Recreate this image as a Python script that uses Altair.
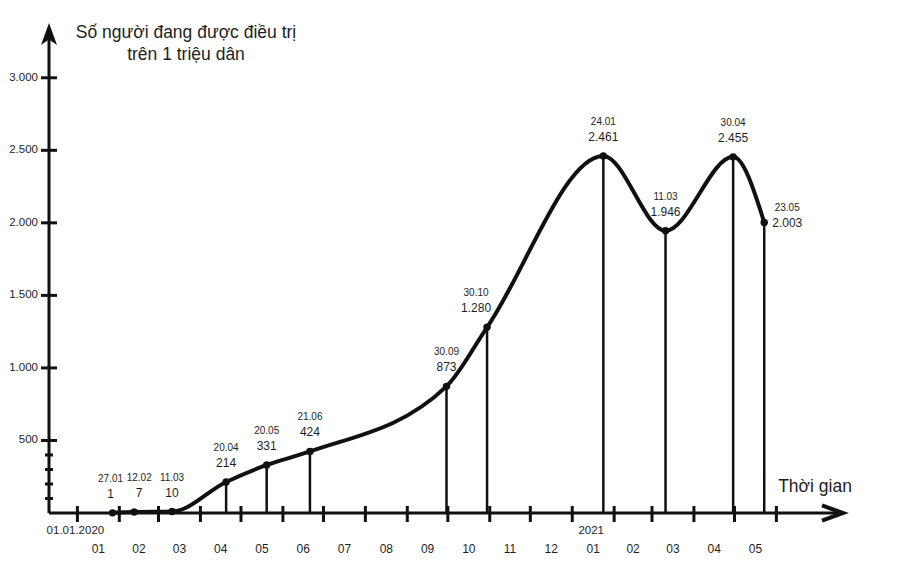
import altair as alt
import pandas as pd

# ---------------- data ----------------
dates = ["2020-01-27", "2020-02-12", "2020-03-11", "2020-04-20", "2020-05-20",
         "2020-06-21", "2020-09-30", "2020-10-30", "2021-01-24", "2021-03-11",
         "2021-04-30", "2021-05-23"]
values = [1, 7, 10, 214, 331, 424, 873, 1280, 2461, 1946, 2455, 2003]

month_starts = ["2020-01-01", "2020-02-01", "2020-03-01", "2020-04-01", "2020-05-01",
                "2020-06-01", "2020-07-01", "2020-08-01", "2020-09-01", "2020-10-01",
                "2020-11-01", "2020-12-01", "2021-01-01", "2021-02-01", "2021-03-01",
                "2021-04-01", "2021-05-01", "2021-06-01"]
month_labels = ["01", "02", "03", "04", "05", "06", "07", "08", "09", "10", "11", "12",
                "01", "02", "03", "04", "05"]
y_major = [500, 1000, 1500, 2000, 2500, 3000]
y_minor = [100, 200, 300, 400]

y_title = ["Số người đang được điều trị", "trên 1 triệu dân"]
x_title = "Thời gian"

# ---------------- tables ----------------
def dotted(v):
    return f"{v:,}".replace(",", ".")

df = pd.DataFrame({"date": dates, "value": values})
df["key"] = dates
df["dlabel"] = pd.to_datetime(df["date"]).dt.strftime("%d.%m")
df["vlabel"] = [dotted(v) for v in values]

ms = pd.to_datetime(pd.Series(month_starts))
mids = ms[:-1].reset_index(drop=True) + (ms[1:].reset_index(drop=True) - ms[:-1].reset_index(drop=True)) / 2
df_mlab = pd.DataFrame({"date": mids.dt.strftime("%Y-%m-%dT%H:%M:%SZ"), "label": month_labels})
df_mtick = pd.DataFrame({"date": month_starts})
df_year = pd.DataFrame({"date": [month_starts[0], df_mlab["date"][12]],
                        "label": ["01.01.2020", "2021"]})
df_ymaj = pd.DataFrame({"value": y_major, "label": [dotted(v) for v in y_major]})
df_ymin = pd.DataFrame({"value": y_minor})
one = pd.DataFrame({"a": [0]})

# ---------------- layout ----------------
W, H = 795, 486
FONT = "Liberation Sans"
INK = "#111111"
TXT = "#1e1e1e"

xs = alt.Scale(type="utc", nice=False,
               domain=[alt.DateTime(year=2019, month=12, date=11, utc=True),
                       alt.DateTime(year=2021, month=7, date=21, utc=True)])
ys = alt.Scale(domain=[0, 3350], nice=False, zero=True)
X = alt.X("date:T", scale=xs, axis=None)
Y = alt.Y("value:Q", scale=ys, axis=None)

# drop lines, curve, points
drops = alt.Chart(df).mark_rule(color=INK, strokeWidth=2.5).encode(x=X, y=Y, y2=alt.datum(0))
curve = alt.Chart(df).mark_line(color=INK, strokeWidth=4, interpolate="monotone").encode(x=X, y=Y)
dots = alt.Chart(df).mark_circle(color=INK, size=55, opacity=1).encode(x=X, y=Y)

# point labels
special = {"2020-01-27": (-2, 0), "2020-02-12": (5, 0), "2020-10-30": (-11, 0),
           "2021-05-23": (23, 20)}

def label_layers(keys, dx, shift, exclude=False):
    if exclude:
        expr = "indexof(" + str(list(keys)) + ", datum.key) < 0"
    else:
        expr = "indexof(" + str(list(keys)) + ", datum.key) >= 0"
    b = alt.Chart(df).transform_filter(expr)
    d = b.mark_text(font=FONT, fontSize=10, color=TXT, dx=dx, dy=-34 + shift,
                    baseline="middle").encode(x=X, y=Y, text="dlabel:N")
    v = b.mark_text(font=FONT, fontSize=12, color=TXT, dx=dx, dy=-19 + shift,
                    baseline="middle").encode(x=X, y=Y, text="vlabel:N")
    return [d, v]

lab_layers = label_layers(list(special.keys()), 0, 0, exclude=True)
for k, (dx, sh) in special.items():
    lab_layers += label_layers([k], dx, sh)

# axes
yaxis = alt.Chart(one).mark_rule(color=INK, strokeWidth=3).encode(
    x=alt.value(0), y=alt.value(H), y2=alt.value(10))
xaxis = alt.Chart(one).mark_rule(color=INK, strokeWidth=3).encode(
    y=alt.value(H), x=alt.value(0), x2=alt.value(W - 3))
up_arrow = alt.Chart(one).mark_point(
    shape="M0,-1 L0.73,1 L0,0.5 L-0.73,1 Z", size=484, filled=True, color=INK,
    opacity=1, strokeWidth=1).encode(x=alt.value(0), y=alt.value(7))
right_arrow = alt.Chart(one).mark_point(
    shape="M-1,-0.72 L1,0 L-1,0.72", size=441, filled=False, color=INK, opacity=1,
    strokeWidth=4, strokeJoin="miter").encode(x=alt.value(W - 11.5), y=alt.value(H))

ymaj_ticks = alt.Chart(df_ymaj).mark_rule(color=INK, strokeWidth=3).encode(
    y=Y, x=alt.value(-8), x2=alt.value(8))
ymin_ticks = alt.Chart(df_ymin).mark_rule(color=INK, strokeWidth=3).encode(
    y=Y, x=alt.value(-4), x2=alt.value(4))
ylabels = alt.Chart(df_ymaj).mark_text(font=FONT, fontSize=11.5, color=TXT, align="right",
                                        baseline="middle").encode(
    y=Y, x=alt.value(-11), text="label:N")

xticks = alt.Chart(df_mtick).mark_rule(color=INK, strokeWidth=3).encode(
    x=X, y=alt.value(H - 7), y2=alt.value(H + 9))
mlabels = alt.Chart(df_mlab).mark_text(font=FONT, fontSize=12, color=TXT,
                                       baseline="alphabetic").encode(
    x=X, y=alt.value(H + 40), text="label:N")
ylabs_year = alt.Chart(df_year).mark_text(font=FONT, fontSize=11.5, color=TXT,
                                          baseline="alphabetic", dx=-2).encode(
    x=X, y=alt.value(H + 21), text="label:N")

t1 = alt.Chart(one).mark_text(font=FONT, fontSize=17.5, color=TXT, align="center",
                              baseline="alphabetic", text=y_title[0]).encode(
    x=alt.value(137), y=alt.value(11))
t2 = alt.Chart(one).mark_text(font=FONT, fontSize=17.5, color=TXT, align="center",
                              baseline="alphabetic", text=y_title[1]).encode(
    x=alt.value(137), y=alt.value(33))
tx = alt.Chart(one).mark_text(font=FONT, fontSize=17.5, color=TXT, align="center",
                              baseline="alphabetic", text=x_title).encode(
    x=alt.value(766), y=alt.value(465))

chart = alt.layer(
    drops, curve, dots, *lab_layers,
    yaxis, xaxis, up_arrow, right_arrow, ymaj_ticks, ymin_ticks, ylabels,
    xticks, mlabels, ylabs_year, t1, t2, tx
).properties(
    width=W, height=H,
    autosize=alt.AutoSizeParams(type="none"),
    padding={"left": 41, "top": 19, "right": 40, "bottom": 52},
).configure_view(strokeWidth=0)

chart.save("out.html", embed_options={"renderer": "svg", "actions": False})
